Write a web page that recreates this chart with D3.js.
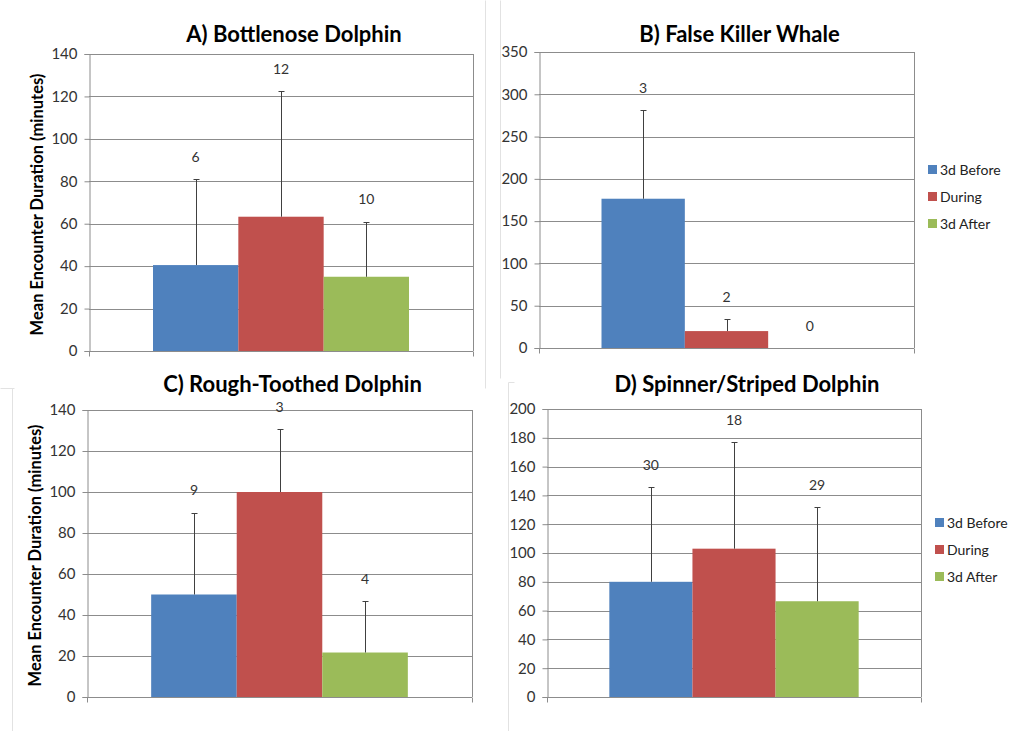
<!DOCTYPE html>
<html>
<head>
<meta charset="utf-8">
<script src="https://cdn.jsdelivr.net/npm/d3@7"></script>
<style>
  body { margin: 0; background: #fff; }
  svg { display: block; font-family: Lato, "Open Sans", sans-serif; }
</style>
</head>
<body>
<svg id="chart" width="1030" height="731"></svg>
<script>
// data
var series = ["3d Before", "During", "3d After"];
var colors = ["#4F81BD", "#C0504D", "#9BBB59"];
var titles = ["A) Bottlenose Dolphin", "B) False Killer Whale", "C) Rough-Toothed Dolphin", "D) Spinner/Striped Dolphin"];
var meanA = [40.5, 63.3, 35];
var meanB = [176.5, 20, 0];
var meanC = [50, 100, 21.7];
var meanD = [80, 103, 66.5];
var sdA = [40.5, 59.2, 26];
var sdB = [105, 14, 0];
var sdC = [40, 30.6, 25];
var sdD = [65.6, 74, 65.2];
var nA = [6, 12, 10];
var nB = [3, 2, 0];
var nC = [9, 3, 4];
var nD = [30, 18, 29];
var yMax = [140, 350, 140, 200];
var yStep = [20, 50, 20, 20];

var svg = d3.select("#chart");

// faint edges of the four pasted chart images
var edges = [[485, 0, 485, 388], [0, 388, 14, 388], [500, 0, 500, 378], [12, 388, 12, 731], [508, 382, 508, 731], [508, 382, 514, 382]];
svg.append("g").selectAll("line").data(edges).enter().append("line")
  .attr("x1", function(d){ return d[0] + 0.5; }).attr("y1", function(d){ return d[1] + 0.5; })
  .attr("x2", function(d){ return d[2] + 0.5; }).attr("y2", function(d){ return d[3] + 0.5; })
  .attr("stroke", "#e2e2e2");

// panel layout (plot areas, title baseline)
var panels = [
  {mean: meanA, sd: sdA, n: nA, l: 89, r: 473, t: 54, b: 351, ty: 42, ylab: true, legend: false},
  {mean: meanB, sd: sdB, n: nB, l: 539, r: 914, t: 52, b: 348, ty: 42, ylab: false, legend: true},
  {mean: meanC, sd: sdC, n: nC, l: 87, r: 472, t: 410, b: 697, ty: 392, ylab: true, legend: false},
  {mean: meanD, sd: sdD, n: nD, l: 547, r: 921, t: 409, b: 697, ty: 392, ylab: false, legend: true}
];

var gridColor = "#8c8c8c";

panels.forEach(function(p, k){
  var g = svg.append("g");

  var y = d3.scaleLinear().domain([0, yMax[k]]).range([p.b, p.t]);
  var w = p.r - p.l;
  var x = d3.scaleBand().domain(series).range([p.l + w / 6, p.r - w / 6]).paddingInner(0);

  var ticks = d3.range(0, yMax[k] + 1, yStep[k]);

  // gridlines
  g.append("g").selectAll("line").data(ticks.filter(function(v){ return v > 0; }))
    .enter().append("line")
    .attr("x1", p.l).attr("x2", p.r)
    .attr("y1", function(d){ return Math.round(y(d)) + 0.5; })
    .attr("y2", function(d){ return Math.round(y(d)) + 0.5; })
    .attr("stroke", gridColor).attr("stroke-width", 1);

  // right border of plot area
  g.append("line")
    .attr("x1", Math.round(p.r) + 0.5).attr("x2", Math.round(p.r) + 0.5)
    .attr("y1", p.t).attr("y2", p.b)
    .attr("stroke", gridColor);

  // bars
  g.append("g").selectAll("rect").data(p.mean)
    .enter().append("rect")
    .attr("x", function(d, i){ return x(series[i]); })
    .attr("width", x.bandwidth())
    .attr("y", function(d){ return y(d); })
    .attr("height", function(d){ return p.b - y(d); })
    .attr("fill", function(d, i){ return colors[i]; });

  // upper error bars
  var eb = g.append("g").attr("stroke", "#404040").attr("stroke-width", 1);
  p.mean.forEach(function(m, i){
    if (p.sd[i] <= 0) return;
    var cx = Math.round(x(series[i]) + x.bandwidth() / 2) + 0.5;
    var top = Math.round(y(m + p.sd[i])) + 0.5;
    eb.append("line").attr("x1", cx).attr("x2", cx).attr("y1", y(m)).attr("y2", top);
    eb.append("line").attr("x1", cx - 3).attr("x2", cx + 3).attr("y1", top).attr("y2", top);
  });

  // n labels
  g.append("g").selectAll("text").data(p.n)
    .enter().append("text")
    .attr("x", function(d, i){ return x(series[i]) + x.bandwidth() / 2; })
    .attr("y", function(d, i){ return y(p.mean[i] + p.sd[i]) - 22; })
    .attr("text-anchor", "middle").attr("dy", "0.35em")
    .attr("font-size", 14).attr("fill", "#333")
    .text(function(d){ return d; });

  // y axis
  var yAxis = d3.axisLeft(y).tickValues(ticks).tickSize(5).tickPadding(7).tickFormat(d3.format("d"));
  var ya = g.append("g").attr("transform", "translate(" + (Math.round(p.l) + 0.5) + ",0)").call(yAxis);
  ya.selectAll("path, line").attr("stroke", gridColor);
  ya.selectAll("text").attr("font-size", 15).attr("fill", "#333").attr("font-family", "Lato, sans-serif");

  // x axis line with end ticks
  var xa = g.append("g").attr("stroke", gridColor);
  var yb = Math.round(p.b) + 0.5;
  xa.append("line").attr("x1", p.l).attr("x2", p.r).attr("y1", yb).attr("y2", yb);
  xa.append("line").attr("x1", Math.round(p.l) + 0.5).attr("x2", Math.round(p.l) + 0.5).attr("y1", yb).attr("y2", yb + 5);
  xa.append("line").attr("x1", Math.round(p.r) + 0.5).attr("x2", Math.round(p.r) + 0.5).attr("y1", yb).attr("y2", yb + 5);

  // title
  g.append("text")
    .attr("x", (p.l + p.r) / 2 + 13).attr("y", p.ty)
    .attr("text-anchor", "middle")
    .attr("font-size", 22).attr("font-weight", "bold").attr("fill", "#000")
    .text(titles[k]);

  // y axis title
  if (p.ylab) {
    g.append("text")
      .attr("transform", "translate(" + (p.l - 52) + "," + ((p.t + p.b) / 2 + 2) + ") rotate(-90)")
      .attr("text-anchor", "middle").attr("dy", "0.35em")
      .attr("font-size", 16.5).attr("font-weight", "bold").attr("fill", "#000")
      .text("Mean Encounter Duration (minutes)");
  }

  // legend
  if (p.legend) {
    var lg = g.append("g").attr("transform", "translate(" + (p.r + 14) + "," + ((p.t + p.b) / 2 - 30) + ")");
    var item = lg.selectAll("g").data(series).enter().append("g")
      .attr("transform", function(d, i){ return "translate(0," + (i * 27) + ")"; });
    item.append("rect").attr("x", 0).attr("y", -5).attr("width", 9).attr("height", 9)
      .attr("fill", function(d, i){ return colors[i]; });
    item.append("text").attr("x", 12).attr("dy", "0.35em")
      .attr("font-size", 14).attr("fill", "#222")
      .text(function(d){ return d; });
  }
});
</script>
</body>
</html>
